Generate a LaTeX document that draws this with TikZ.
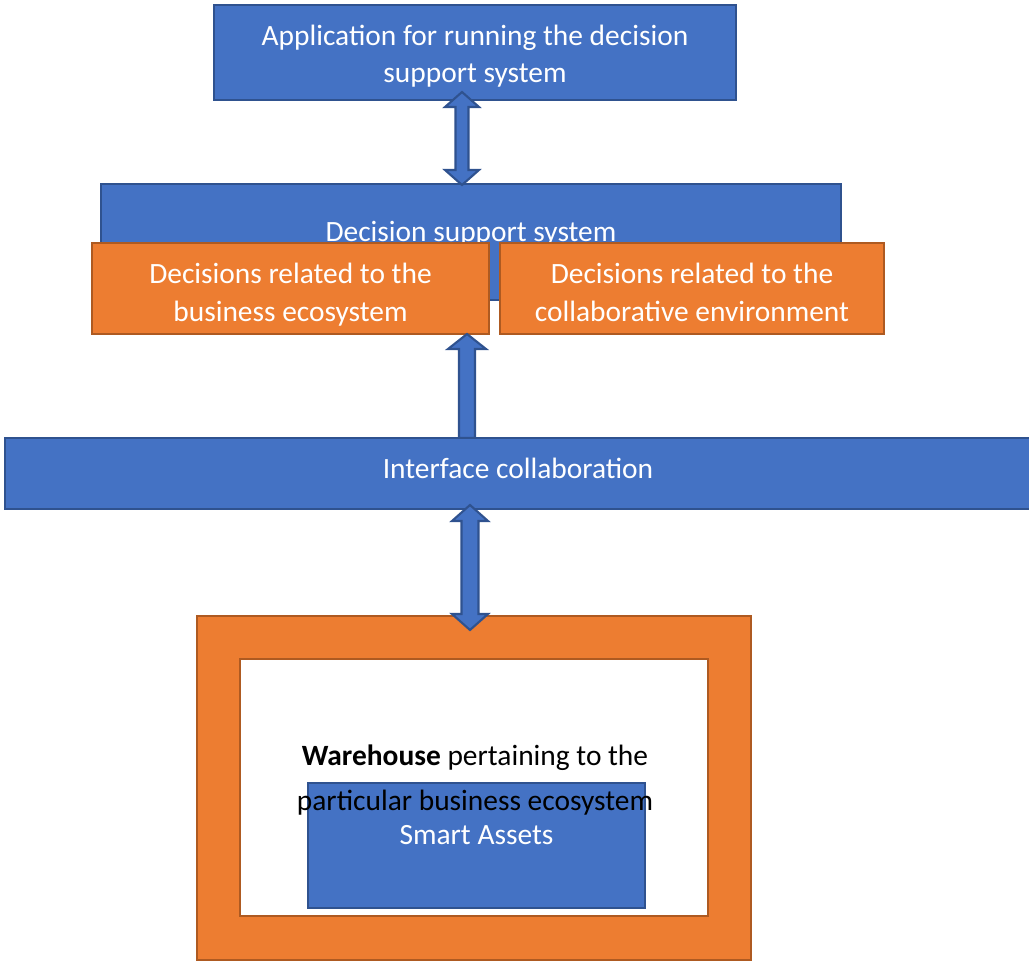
\documentclass[tikz,border=0pt]{standalone}
\usepackage{fontspec}
\setmainfont{Carlito}
\usetikzlibrary{positioning}
\definecolor{boxblue}{HTML}{4472C4}
\definecolor{lineblue}{HTML}{2F528F}
\definecolor{boxorange}{HTML}{ED7D31}
\definecolor{lineorange}{HTML}{AE5A21}
\tikzset{
  bluebox/.style={draw=lineblue, fill=boxblue, line width=1.2pt, text=white, align=center, inner sep=0pt,
    execute at begin node=\strut, execute at end node=\strut},
  orangebox/.style={draw=lineorange, fill=boxorange, line width=1.2pt, text=white, align=center, inner sep=0pt,
    execute at begin node=\strut, execute at end node=\strut},
  botdeep/.style={execute at end node={\rule[-#1]{0pt}{0pt}}},
  blockarrow/.style={draw=lineblue, fill=boxblue, line width=1.2pt, line join=miter},
  boxfont/.style={font=\fontsize{16.75}{21.6}\selectfont}
}

\begin{document}
\begin{tikzpicture}[x=0.02cm, y=-0.02cm, boxfont]
\useasboundingbox (0,0) rectangle (1029,963);
\node[bluebox, text height=41.2pt, minimum width=10.44cm, minimum height=1.9cm] (app) at (475,52.5) {Application for running the decision\\support system};
\node[bluebox, minimum width=14.8cm, minimum height=2.32cm, label={[text=white, yshift=0.16cm]center:Decision support system}] (dss) at (471,242) {};
\node[orangebox, text height=43.6pt, minimum width=7.94cm, minimum height=1.82cm] (bizdec) at (290.5,288.5) {Decisions related to the\\business ecosystem};
\node[orangebox, text height=43.6pt, minimum width=7.68cm, minimum height=1.82cm] (coldec) at (692,288.5) {Decisions related to the\\collaborative environment};
\coordinate (tipa) at (462,92);
\draw[blockarrow] (tipa) -- ++(17,15) -- ++(-10.5,0) -- ++(0,63) -- ++(10.5,0) -- ++(-17,15) -- ++(-17,-15) -- ++(10.5,0) -- ++(0,-63) -- ++(-10.5,0) -- cycle;
\coordinate (tipb) at (467,334);
\draw[blockarrow] (tipb) -- ++(19,15) -- ++(-11,0) -- ++(0,89) -- ++(-16,0) -- ++(0,-89) -- ++(-11,0) -- cycle;
\node[bluebox, botdeep=9.9pt, minimum width=20.52cm, minimum height=1.42cm] (iface) at (518,473.5) {Interface collaboration};
\node[orangebox, minimum width=11.08cm, minimum height=6.88cm] (frame) at (474,788) {};
\node[draw=lineorange, fill=white, line width=1.2pt, minimum width=9.36cm, minimum height=5.14cm] (store) at (474,787.5) {};
\node[bluebox, minimum width=6.74cm, minimum height=2.5cm, label={[text=white, yshift=0.21cm]center:Smart Assets}] (assets) at (476.5,845.5) {};
\node[align=center, font=\fontsize{16.75}{25.6}\selectfont] (whtext) at (475,780.5) {\textbf{Warehouse} pertaining to the\\particular business ecosystem};
\coordinate (tipc) at (470,505);
\draw[blockarrow] (tipc) -- ++(18,16) -- ++(-9.5,0) -- ++(0,93) -- ++(9.5,0) -- ++(-18,16) -- ++(-18,-16) -- ++(9.5,0) -- ++(0,-93) -- ++(-9.5,0) -- cycle;
\end{tikzpicture}
\end{document}
